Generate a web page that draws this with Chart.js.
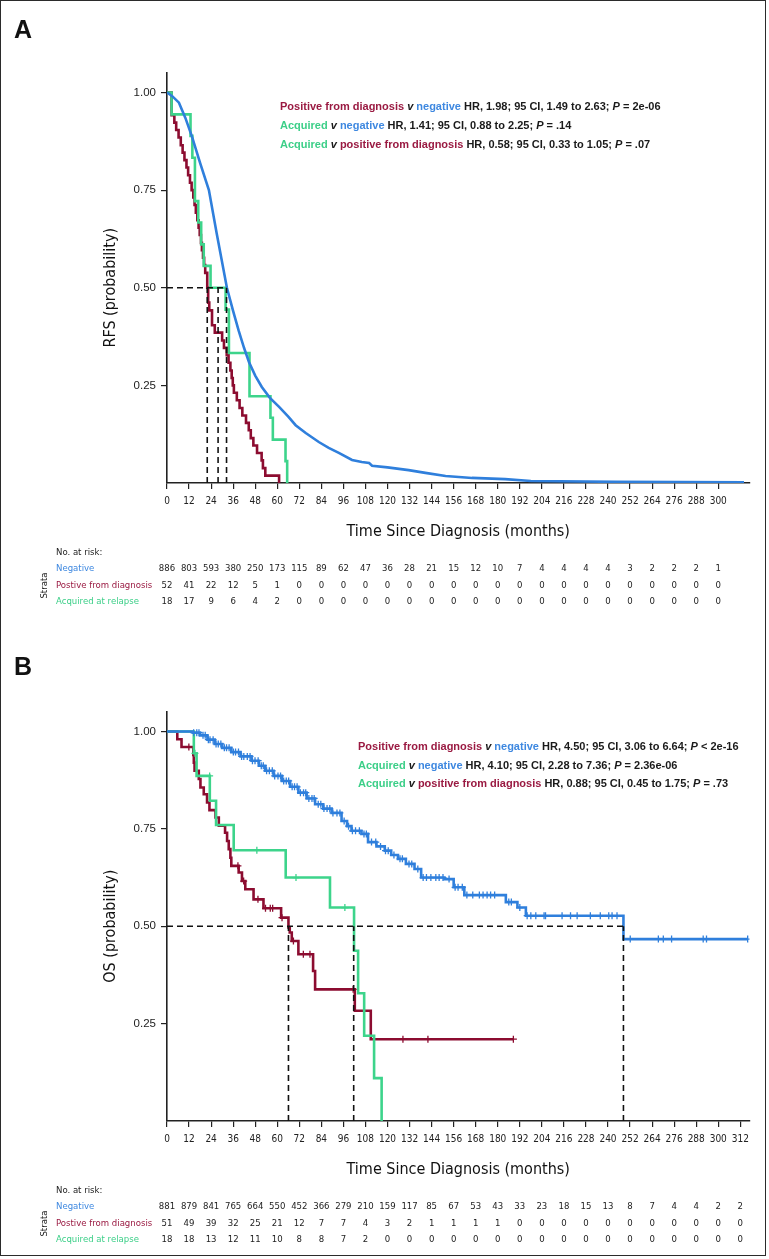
<!DOCTYPE html>
<html>
<head>
<meta charset="utf-8">
<script src="https://cdn.jsdelivr.net/npm/chart.js@4.4.1/dist/chart.umd.min.js"></script>
<style>
  html, body { margin: 0; padding: 0; background: #fff; }
  body { width: 769px; height: 1259px; position: relative; overflow: hidden; }
  canvas { position: absolute; left: 0; }
  #panelA { top: 0; }
  #panelB { top: 625px; }
  #marco { position: absolute; left: 0; top: 0; width: 764px; height: 1254px; border: 1.5px solid #2b2b2b; pointer-events: none; }
</style>
</head>
<body>
<canvas id="panelA" width="769" height="625"></canvas>
<canvas id="panelB" width="769" height="634"></canvas>
<div id="marco"></div>
<script>
// Colores de cada estrato
var colNeg = '#2f7fdc';
var colPos = '#8c0c30';
var colAcq = '#3dd48b';
var txtNeg = '#3e88e0';
var txtPos = '#9a1a42';
var txtAcq = '#3ccf88';
var negro = '#1a1a1a';

// Marcas de los ejes
var ticksXA = [0, 12, 24, 36, 48, 60, 72, 84, 96, 108, 120, 132, 144, 156, 168, 180, 192, 204, 216, 228, 240, 252, 264, 276, 288, 300];
var ticksXB = [0, 12, 24, 36, 48, 60, 72, 84, 96, 108, 120, 132, 144, 156, 168, 180, 192, 204, 216, 228, 240, 252, 264, 276, 288, 300, 312];
var ticksY = [0.25, 0.5, 0.75, 1.0];

// Panel A: RFS (tiempo en meses, supervivencia)
var rfsNegT = [0, 3, 6.5, 10, 13.6, 18, 22.8, 27, 32.6, 36, 39, 42, 44.6, 48, 51.6, 56, 61, 66, 70, 75.5, 82.6, 88, 93.5, 100.7, 106, 110, 111.6, 120, 131.5, 140.6, 151.6, 166, 184, 198, 244, 314];
var rfsNegS = [1, 0.99, 0.974, 0.935, 0.887, 0.82, 0.75, 0.64, 0.5, 0.44, 0.39, 0.345, 0.31, 0.275, 0.246, 0.218, 0.195, 0.17, 0.148, 0.128, 0.105, 0.09, 0.077, 0.059, 0.054, 0.051, 0.044, 0.04, 0.033, 0.026, 0.018, 0.013, 0.01, 0.005, 0.003, 0.0015];
var rfsPosT = [0, 2.5, 4, 5, 6.3, 7.5, 8.5, 9.5, 10.6, 11.5, 12.5, 13.4, 14.3, 15, 15.7, 16.5, 17.2, 17.8, 18.5, 19, 19.6, 20.2, 20.8, 21.9, 22.4, 23, 24.5, 26, 30, 31, 32.5, 33.5, 34.5, 35.2, 35.8, 36.4, 38, 39.5, 41, 43, 44.5, 45.6, 47, 49, 51.5, 52.2, 53.5, 61];
var rfsPosS = [1, 0.942, 0.923, 0.904, 0.885, 0.865, 0.846, 0.827, 0.808, 0.788, 0.769, 0.75, 0.731, 0.712, 0.692, 0.673, 0.654, 0.635, 0.615, 0.596, 0.577, 0.558, 0.538, 0.5, 0.462, 0.442, 0.404, 0.385, 0.365, 0.346, 0.327, 0.308, 0.288, 0.269, 0.25, 0.231, 0.212, 0.192, 0.173, 0.154, 0.135, 0.115, 0.096, 0.077, 0.058, 0.038, 0.019, 0];
var rfsAcqT = [0, 2.5, 12.8, 13.8, 15.2, 17, 18.6, 20, 23.7, 31.9, 33.7, 44.9, 56.3, 57.6, 64.5, 65.4];
var rfsAcqS = [1, 0.944, 0.889, 0.833, 0.722, 0.667, 0.611, 0.556, 0.5, 0.444, 0.333, 0.222, 0.167, 0.111, 0.056, 0];
var medianasA = [21.9, 27.8, 32.4];

// Panel B: OS
var osNegT = [0, 14, 18, 22, 26, 30, 35, 40, 46, 50, 53.5, 58, 62.5, 67, 71.5, 76, 80.6, 85, 89.6, 95, 98, 100.4, 105.8, 109.4, 114, 118.5, 122, 125.7, 130, 134.7, 138.3, 151, 156, 161.8, 184.4, 190.7, 195.3, 248.4, 316];
var osNegS = [1, 0.997, 0.99, 0.979, 0.968, 0.958, 0.947, 0.936, 0.925, 0.912, 0.899, 0.886, 0.873, 0.858, 0.843, 0.828, 0.813, 0.802, 0.791, 0.77, 0.757, 0.745, 0.737, 0.716, 0.705, 0.694, 0.683, 0.673, 0.66, 0.647, 0.625, 0.621, 0.6, 0.58, 0.562, 0.548, 0.527, 0.467, 0.467];
var osNegCens = [14.5, 16.2, 17.4, 19.6, 20.8, 22.5, 23.4, 25.1, 26.7, 27.9, 29.3, 31.2, 32.4, 33.8, 36.1, 37.3, 38.9, 40.6, 41.8, 43.7, 45.2, 46.5, 47.9, 49.6, 51.3, 52.4, 54.2, 55.7, 57.3, 58.6, 60.4, 61.8, 63.5, 64.9, 66.2, 68.1, 69.4, 70.8, 72.6, 74.3, 75.5, 77.2, 78.9, 80.1, 82.3, 83.7, 85.4, 87.1, 88.6, 90.3, 92.5, 94.1, 96.4, 98.8, 100.9, 102.6, 104.7, 107.2, 108.5, 111.3, 113.6, 116.2, 118.9, 120.4, 123.5, 126.8, 128.1, 131.7, 133.2, 136.5, 139.4, 141.2, 143.6, 146.3, 148.1, 150.2, 153.5, 156.8, 158.4, 160.7, 163.2, 166.4, 170, 172, 174.2, 176.1, 178.3, 186, 187.4, 192, 196, 198, 200.7, 205.2, 206, 215, 219.6, 223.2, 230.4, 235.8, 240.4, 242.2, 244.9, 252.1, 267.4, 270.1, 274.6, 291.8, 293.6, 316];
var osPosT = [0, 5.6, 7.9, 14.3, 14.6, 15, 17.3, 18.2, 20, 21.8, 23.1, 26.4, 28.2, 31.6, 32.7, 33.6, 34.5, 35, 39, 40.8, 42.6, 47.1, 52.5, 62.1, 66.1, 66.8, 67.9, 71.5, 79.5, 80.6, 102.2, 110.9, 188.5];
var osPosS = [1, 0.98, 0.96, 0.94, 0.92, 0.899, 0.878, 0.856, 0.839, 0.818, 0.798, 0.779, 0.758, 0.74, 0.719, 0.698, 0.676, 0.655, 0.638, 0.616, 0.595, 0.569, 0.546, 0.522, 0.497, 0.484, 0.462, 0.428, 0.385, 0.338, 0.283, 0.21, 0.21];
var osPosCens = [11.9, 38.6, 41.7, 49.5, 53.6, 56.2, 57.5, 62.6, 68.8, 74.2, 77.8, 101.3, 128.4, 142, 188.5];
var osAcqT = [0, 14.6, 16.1, 23.3, 26.7, 36.3, 64.6, 88.7, 101.8, 104, 107.3, 112.7, 116.8];
var osAcqS = [1, 0.944, 0.886, 0.822, 0.76, 0.695, 0.625, 0.548, 0.437, 0.328, 0.219, 0.11, 0];
var osAcqCens = [15.2, 23.2, 48.9, 70.2, 96.8];
var medianasB = [66.1, 101.6, 248.4];

// Tablas de pacientes en riesgo
var riesgoNegA = [886, 803, 593, 380, 250, 173, 115, 89, 62, 47, 36, 28, 21, 15, 12, 10, 7, 4, 4, 4, 4, 3, 2, 2, 2, 1];
var riesgoPosA = [52, 41, 22, 12, 5, 1, 0, 0, 0, 0, 0, 0, 0, 0, 0, 0, 0, 0, 0, 0, 0, 0, 0, 0, 0, 0];
var riesgoAcqA = [18, 17, 9, 6, 4, 2, 0, 0, 0, 0, 0, 0, 0, 0, 0, 0, 0, 0, 0, 0, 0, 0, 0, 0, 0, 0];
var riesgoNegB = [881, 879, 841, 765, 664, 550, 452, 366, 279, 210, 159, 117, 85, 67, 53, 43, 33, 23, 18, 15, 13, 8, 7, 4, 4, 2, 2];
var riesgoPosB = [51, 49, 39, 32, 25, 21, 12, 7, 7, 4, 3, 2, 1, 1, 1, 1, 0, 0, 0, 0, 0, 0, 0, 0, 0, 0, 0];
var riesgoAcqB = [18, 18, 13, 12, 11, 10, 8, 8, 7, 2, 0, 0, 0, 0, 0, 0, 0, 0, 0, 0, 0, 0, 0, 0, 0, 0, 0];

var fuenteCond = '"DejaVu Sans Condensed", "DejaVu Sans", sans-serif';
var fuenteNormal = '"Liberation Sans", Arial, sans-serif';

// Convertir dos arrays en puntos {x, y}
function puntos(t, s) {
    return t.map(function (v, i) { return { x: v, y: s[i] }; });
}

// Valor de la curva escalonada en el tiempo x
function survEn(t, s, x) {
    var v = s[0];
    for (var i = 0; i < t.length; i++) {
        if (t[i] <= x) v = s[i];
    }
    return v;
}

function censuras(tc, t, s) {
    return tc.map(function (x) { return { x: x, y: survEn(t, s, x) }; });
}

function curva(datos, color, escalon) {
    return {
        data: datos, showLine: true, stepped: escalon ? 'before' : false,
        borderColor: color, borderWidth: 2.6, pointRadius: 0, fill: false, order: 2
    };
}

function cruces(datos, color) {
    return {
        data: datos, showLine: false, pointStyle: 'cross', pointRadius: 3.5,
        borderColor: color, pointBorderWidth: 1.3, order: 1
    };
}

function discontinua(datos) {
    return {
        data: datos, showLine: true, borderColor: '#111', borderWidth: 1.6,
        borderDash: [6, 4], pointRadius: 0, fill: false, order: 0
    };
}

// Lineas de la mediana
function lineasMediana(medianas) {
    var sets = [discontinua([{ x: 0, y: 0.5 }, { x: Math.max.apply(null, medianas), y: 0.5 }])];
    medianas.forEach(function (m) {
        sets.push(discontinua([{ x: m, y: 0 }, { x: m, y: 0.5 }]));
    });
    return sets;
}

// Texto con varios colores en una linea
function textoPartes(ctx, partes, x, y) {
    ctx.textAlign = 'left';
    ctx.textBaseline = 'middle';
    partes.forEach(function (p) {
        ctx.font = (p[2] ? 'italic ' : '') + 'bold 11px ' + fuenteNormal;
        ctx.fillStyle = p[1];
        ctx.fillText(p[0], x, y);
        x += ctx.measureText(p[0]).width;
    });
}

function crearPanel(id, p) {
    var decor = {
        id: 'decor',
        afterDraw: function (chart) {
            var ctx = chart.ctx;
            var xs = chart.scales.x;
            var ys = chart.scales.y;
            ctx.save();

            // Letra del panel
            ctx.font = 'bold 25px ' + fuenteNormal;
            ctx.fillStyle = '#111';
            ctx.textAlign = 'left';
            ctx.textBaseline = 'alphabetic';
            ctx.fillText(p.letra, 14, p.letraY);

            // Titulo eje Y
            ctx.save();
            ctx.translate(111, ys.getPixelForValue(0.5));
            ctx.rotate(-Math.PI / 2);
            ctx.font = '16px ' + fuenteCond;
            ctx.textAlign = 'center';
            ctx.textBaseline = 'middle';
            ctx.fillStyle = '#111';
            ctx.fillText(p.tituloY, 0, 0);
            ctx.restore();

            // Titulo eje X
            ctx.font = '16px ' + fuenteCond;
            ctx.textAlign = 'center';
            ctx.textBaseline = 'middle';
            ctx.fillStyle = '#111';
            ctx.fillText('Time Since Diagnosis (months)', (chart.chartArea.left + chart.chartArea.right) / 2, ys.bottom + 49);

            // Comparaciones HR
            p.notas.forEach(function (linea, i) {
                textoPartes(ctx, linea, p.notaX, p.notaY[i]);
            });

            // Tabla de riesgo
            var base = ys.bottom;
            ctx.font = '9.5px ' + fuenteCond;
            ctx.textAlign = 'left';
            ctx.textBaseline = 'middle';
            ctx.fillStyle = '#222';
            ctx.fillText('No. at risk:', 56, base + 70);
            var filas = [
                ['Negative', txtNeg, p.riesgo[0], base + 86],
                ['Postive from diagnosis', txtPos, p.riesgo[1], base + 102.5],
                ['Acquired at relapse', txtAcq, p.riesgo[2], base + 119]
            ];
            filas.forEach(function (f) {
                ctx.textAlign = 'left';
                ctx.fillStyle = f[1];
                ctx.fillText(f[0], 56, f[3]);
                ctx.textAlign = 'center';
                ctx.fillStyle = '#222';
                f[2].forEach(function (n, j) {
                    ctx.fillText(String(n), xs.getPixelForValue(p.ticksX[j]), f[3]);
                });
            });
            ctx.save();
            ctx.translate(45, base + 102.5);
            ctx.rotate(-Math.PI / 2);
            ctx.textAlign = 'center';
            ctx.fillStyle = '#222';
            ctx.fillText('Strata', 0, 0);
            ctx.restore();

            ctx.restore();
        }
    };

    return new Chart(document.getElementById(id).getContext('2d'), {
        type: 'scatter',
        data: { datasets: p.datasets },
        options: {
            responsive: false,
            animation: false,
            events: [],
            layout: { padding: { left: 107, right: 19.5, top: p.arriba, bottom: p.abajo } },
            plugins: { legend: { display: false }, tooltip: { enabled: false } },
            scales: {
                x: {
                    type: 'linear', min: 0, max: 317,
                    afterFit: function (s) { s.height = 30; },
                    afterBuildTicks: function (s) { s.ticks = p.ticksX.map(function (v) { return { value: v }; }); },
                    ticks: { font: { family: fuenteCond, size: 10 }, color: '#222', padding: 6, maxRotation: 0, autoSkip: false },
                    grid: { drawOnChartArea: false, drawTicks: true, tickLength: 6, color: '#222', lineWidth: 1.2 },
                    border: { display: true, color: '#222', width: 1.6 }
                },
                y: {
                    type: 'linear', min: 0, max: 1.05,
                    afterFit: function (s) { s.width = 60; },
                    afterBuildTicks: function (s) { s.ticks = ticksY.map(function (v) { return { value: v }; }); },
                    ticks: { font: { family: fuenteNormal, size: 11.5 }, color: '#222', padding: 5, callback: function (v) { return Number(v).toFixed(2); } },
                    grid: { drawOnChartArea: false, drawTicks: true, tickLength: 6, color: '#222', lineWidth: 1.2 },
                    border: { display: true, color: '#222', width: 1.6 }
                }
            }
        },
        plugins: [decor]
    });
}

// Panel A
crearPanel('panelA', {
    letra: 'A', letraY: 38, tituloY: 'RFS (probability)',
    arriba: 73, abajo: 112, ticksX: ticksXA,
    riesgo: [riesgoNegA, riesgoPosA, riesgoAcqA],
    notaX: 280, notaY: [107, 126, 145],
    notas: [
        [['Positive from diagnosis', txtPos], [' v ', negro, true], ['negative', txtNeg], [' HR, 1.98; 95 CI, 1.49 to 2.63; ', negro], ['P', negro, true], [' = 2e-06', negro]],
        [['Acquired', txtAcq], [' v ', negro, true], ['negative', txtNeg], [' HR, 1.41; 95 CI, 0.88 to 2.25; ', negro], ['P', negro, true], [' = .14', negro]],
        [['Acquired', txtAcq], [' v ', negro, true], ['positive from diagnosis', txtPos], [' HR, 0.58; 95 CI, 0.33 to 1.05; ', negro], ['P', negro, true], [' = .07', negro]]
    ],
    datasets: lineasMediana(medianasA).concat([
        curva(puntos(rfsNegT, rfsNegS), colNeg, false),
        curva(puntos(rfsAcqT, rfsAcqS), colAcq, true),
        curva(puntos(rfsPosT, rfsPosS), colPos, true)
    ])
});

// Panel B
crearPanel('panelB', {
    letra: 'B', letraY: 50, tituloY: 'OS (probability)',
    arriba: 87, abajo: 108, ticksX: ticksXB,
    riesgo: [riesgoNegB, riesgoPosB, riesgoAcqB],
    notaX: 358, notaY: [122, 140.5, 159],
    notas: [
        [['Positive from diagnosis', txtPos], [' v ', negro, true], ['negative', txtNeg], [' HR, 4.50; 95 CI, 3.06 to 6.64; ', negro], ['P', negro, true], [' < 2e-16', negro]],
        [['Acquired', txtAcq], [' v ', negro, true], ['negative', txtNeg], [' HR, 4.10; 95 CI, 2.28 to 7.36; ', negro], ['P', negro, true], [' = 2.36e-06', negro]],
        [['Acquired', txtAcq], [' v ', negro, true], ['positive from diagnosis', txtPos], [' HR, 0.88; 95 CI, 0.45 to 1.75; ', negro], ['P', negro, true], [' = .73', negro]]
    ],
    datasets: lineasMediana(medianasB).concat([
        curva(puntos(osNegT, osNegS), colNeg, true),
        cruces(censuras(osNegCens, osNegT, osNegS), colNeg),
        curva(puntos(osAcqT, osAcqS), colAcq, true),
        cruces(censuras(osAcqCens, osAcqT, osAcqS), colAcq),
        curva(puntos(osPosT, osPosS), colPos, true),
        cruces(censuras(osPosCens, osPosT, osPosS), colPos)
    ])
});
</script>
</body>
</html>
